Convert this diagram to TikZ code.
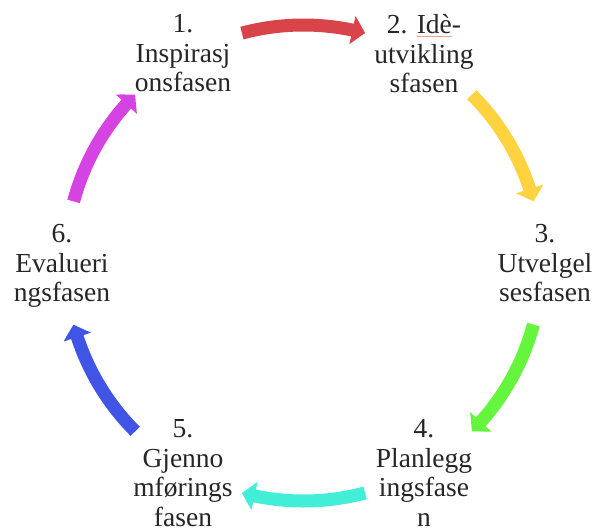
\documentclass[tikz,border=0pt]{standalone}
\usepackage{fontspec}
\setmainfont{Liberation Serif}
\usetikzlibrary{arrows.meta,bending,calc}
\definecolor{txt}{HTML}{262626}
\definecolor{cred}{HTML}{D9444B}
\definecolor{cyellow}{HTML}{FFD340}
\definecolor{cgreen}{HTML}{65F53C}
\definecolor{ccyan}{HTML}{42EED8}
\definecolor{cblue}{HTML}{4055E6}
\definecolor{cmagenta}{HTML}{D544E2}
\newcommand\spellmark[1]{\setbox0\hbox{#1}\rlap{\color{red!40}\rule[-3pt]{\wd0}{0.7pt}}#1}
\begin{document}
\begin{tikzpicture}[x=1pt,y=-1pt,
  phase/.style={font=\fontsize{27.5}{29.5}\selectfont, text=txt, align=center, inner sep=0pt, anchor=north},
  cyc/.style={line width=13pt, -{Triangle[width=28pt,length=13pt,bend]}}]
\useasboundingbox (0,0) rectangle (595,528);
\coordinate (c) at (303.5,263);
\node[phase] (p1) at (183,14.5) {1.\\Inspirasj\\onsfasen};
\node[phase] (p2) at (424,14.5) {2. \spellmark{Idè}-\\utvikling\\sfasen};
\node[phase] (p3) at (545,224.5) {3.\\Utvelgel\\sesfasen};
\node[phase] (p4) at (424,419.5) {4.\\Planlegg\\ingsfase\\n};
\node[phase] (p5) at (183,419.5) {5.\\Gjenno\\mførings\\fasen};
\node[phase] (p6) at (62,224.5) {6.\\Evalueri\\ngsfasen};
\coordinate (a1) at ($(c)+(105:238pt)$);
\coordinate (a2) at ($(c)+(45:238pt)$);
\coordinate (a3) at ($(c)+(-15:238pt)$);
\coordinate (a4) at ($(c)+(-75:238pt)$);
\coordinate (a5) at ($(c)+(-135:238pt)$);
\coordinate (a6) at ($(c)+(165:238pt)$);
\draw[cyc, cred] (a1) arc[start angle=105, end angle=75, radius=238pt];
\draw[cyc, cyellow] (a2) arc[start angle=45, end angle=15, radius=238pt];
\draw[cyc, cgreen] (a3) arc[start angle=-15, end angle=-45, radius=238pt];
\draw[cyc, ccyan] (a4) arc[start angle=-75, end angle=-105, radius=238pt];
\draw[cyc, cblue] (a5) arc[start angle=-135, end angle=-165, radius=238pt];
\draw[cyc, cmagenta] (a6) arc[start angle=165, end angle=135, radius=238pt];
\end{tikzpicture}
\end{document}
